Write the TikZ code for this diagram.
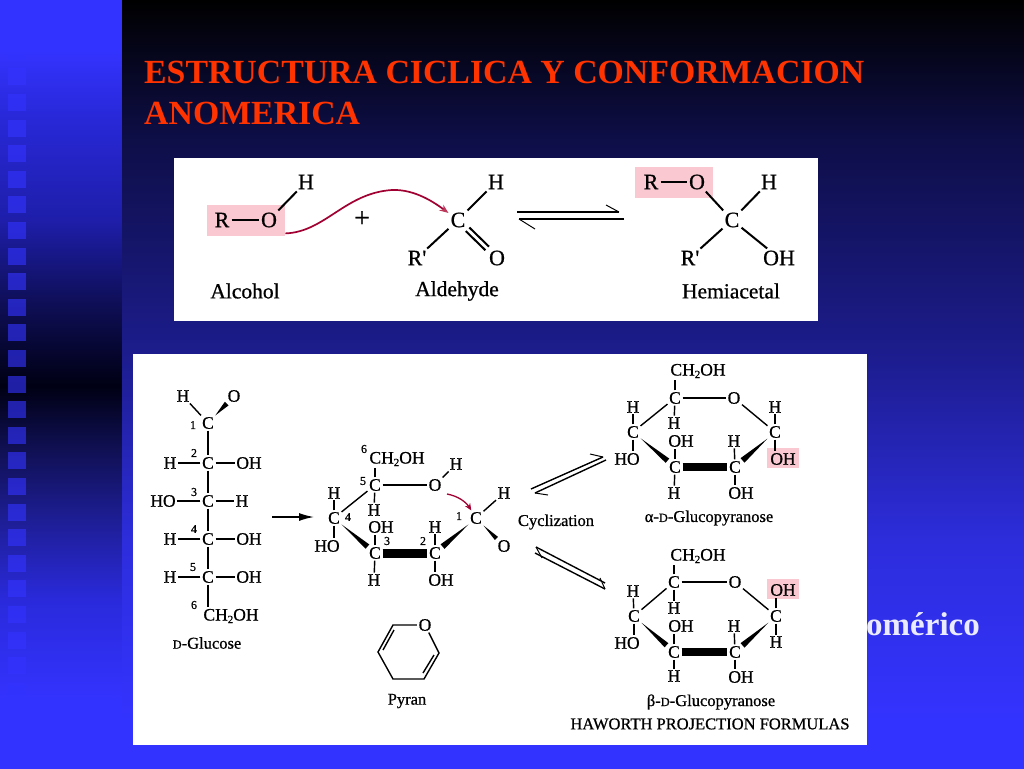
\documentclass[tikz,border=0pt]{standalone}
\usepackage{fontspec}
\setmainfont{Liberation Serif}
\newfontfamily\molfont[FakeBold=0.7]{Liberation Serif}
\usetikzlibrary{calc,arrows.meta}
\definecolor{bbright}{RGB}{51,51,255}
\definecolor{pinkbg}{RGB}{250,200,208}
\definecolor{arrowred}{RGB}{160,0,50}
\definecolor{titlered}{RGB}{255,51,0}
\pgfdeclareverticalshading{leftbg}{100bp}{
 color(0bp)=(bbright); color(29.4bp)=(bbright);
 color(35.9bp)=(rgb,255:red,42;green,42;blue,220);
 color(41.1bp)=(rgb,255:red,30;green,30;blue,150);
 color(46bp)=(rgb,255:red,15;green,15;blue,80);
 color(49.9bp)=(rgb,255:red,0;green,0;blue,20);
 color(55.5bp)=(rgb,255:red,15;green,15;blue,90);
 color(60.7bp)=(rgb,255:red,30;green,30;blue,170);
 color(67.2bp)=(rgb,255:red,40;green,40;blue,215);
 color(71.7bp)=(bbright); color(100bp)=(bbright)}
\pgfdeclareverticalshading{rightbg}{100bp}{
 color(0bp)=(bbright); color(28.1bp)=(bbright);
 color(39.8bp)=(rgb,255:red,45;green,45;blue,220);
 color(52.2bp)=(rgb,255:red,28;green,28;blue,140);
 color(65.9bp)=(rgb,255:red,14;green,14;blue,72);
 color(75bp)=(rgb,255:red,0;green,0;blue,0); color(100bp)=(rgb,255:red,0;green,0;blue,0)}
\tikzset{
 x=1pt,y=-1pt,
 atomU/.style={inner sep=2pt,font=\molfont\fontsize{22}{22}\selectfont},
 atomL/.style={inner sep=1.5pt,font=\molfont\fontsize{17.5}{17.5}\selectfont},
 num/.style={inner sep=0pt,font=\molfont\fontsize{12}{12}\selectfont},
 capU/.style={inner sep=0pt,font=\molfont\fontsize{21.5}{21.5}\selectfont},
 capL/.style={inner sep=0pt,font=\molfont\fontsize{16.5}{16.5}\selectfont},
 bondU/.style={line width=2pt},
 bondL/.style={line width=1.4pt},
 barb/.style={line width=1pt},
 pinkbox/.style={fill=pinkbg,inner sep=0pt,anchor=north west},
 panel/.style={fill=white},
 squarebox/.style={fill=bbright,fill opacity=.62},
 titletext/.style={anchor=base west,inner sep=0pt,text=titlered,font=\fontsize{33.8}{33.8}\selectfont\bfseries},
}
\newcommand\wbond[3]{\path (#1) -- (#2) coordinate[pos=0] (wS) coordinate[pos=1] (wE);
 \fill (wS) -- ($(wE)!#3!90:(wS)$) -- ($(wE)!#3!-90:(wS)$) -- cycle;}
\newcommand\chtwo{CH\raisebox{-2.5pt}{\fontsize{11}{11}\selectfont 2}OH}
\newcommand\smalld{{\fontsize{12.5}{12.5}\selectfont D}}
\begin{document}
\begin{tikzpicture}
\useasboundingbox (0,0) rectangle (1024,768);
% backgrounds
\shade[shading=leftbg] (0,0) rectangle (122,768);
\shade[shading=rightbg] (122,0) rectangle (1024,768);
\foreach \k in {-13,...,15} {
 \fill[squarebox] (8,{350+25.6*\k}) rectangle (26,{367+25.6*\k});
}
% title
\node[titletext] (t1) at (144,83) {ESTRUCTURA CICLICA Y CONFORMACION};
\node[titletext] (t2) at (144,124) {ANOMERICA};
\node[anchor=base west,inner sep=0pt,text={rgb,255:red,235;green,235;blue,255},font=\fontsize{33}{33}\selectfont\bfseries] (omer) at (866,635) {omérico};
% panels
\fill[panel] (174,158) rectangle (818,321);
\fill[panel] (133,354) rectangle (867,745);

% ---------- top panel
\node[pinkbox,minimum width=78pt,minimum height=31pt] (pk1) at (207,205) {};
\node[pinkbox,minimum width=78pt,minimum height=31pt] (pk2) at (635,167) {};
\node[atomU] (aR) at (222,220) {R};
\node[atomU] (aO) at (269,220) {O};
\node[atomU] (aH) at (306,182) {H};
\draw[bondU] (aR) -- (aO);
\draw[bondU] (aO) -- (aH);
\node[atomU,font=\molfont\fontsize{28}{28}\selectfont] (plus) at (362,219) {+};
\node[atomU] (bC) at (458,220) {C};
\node[atomU] (bH) at (496,182) {H};
\node[atomU] (bR) at (417,258) {R'};
\node[atomU] (bO) at (497,258) {O};
\draw[bondU] (bC) -- (bH);
\draw[bondU] (bC) -- (bR);
\draw[bondU,transform canvas={shift={(1.8pt,1.8pt)}}] (bC) -- (bO);
\draw[bondU,transform canvas={shift={(-1.8pt,-1.8pt)}}] (bC) -- (bO);
\draw[arrowred,line width=1.7pt,-{Stealth[length=9pt,width=7pt,color=arrowred!70!pink]}]
 ([yshift=3pt]pk1.south east) .. controls (325,232) and (345,193) .. (392,190)
 .. controls (415,189) and (435,203) .. (bC);
\coordinate (eqAs) at (517,212); \coordinate (eqAe) at (619,212); \coordinate (eqAb) at (606,205);
\coordinate (eqBs) at (624,219); \coordinate (eqBe) at (519,219); \coordinate (eqBb) at (535,229);
\draw[bondU] (eqAs) -- (eqAe);
\draw[barb] (eqAe) -- (eqAb);
\draw[bondU] (eqBs) -- (eqBe);
\draw[barb] (eqBe) -- (eqBb);
\node[atomU] (cR) at (651,182) {R};
\node[atomU] (cO) at (697,182) {O};
\node[atomU] (cC) at (732,220) {C};
\node[atomU] (cH) at (769,182) {H};
\node[atomU] (cRp) at (690,258) {R'};
\node[atomU] (cOH) at (779,258) {OH};
\draw[bondU] (cR) -- (cO);
\draw[bondU] (cO) -- (cC);
\draw[bondU] (cC) -- (cH);
\draw[bondU] (cC) -- (cRp);
\draw[bondU] (cC) -- (cOH);
\node[capU] (lAlc) at (245,291) {Alcohol};
\node[capU] (lAld) at (457,291) {Aldehyde};
\node[capU] (lHem) at (731,291) {Hemiacetal};

% ---------- D-glucose
\node[atomL] (gH) at (183,396) {H};
\node[atomL] (gO) at (234,396) {O};
\node[atomL] (g1) at (208,423) {C};
\node[atomL] (g2) at (208,463) {C};
\node[atomL] (g3) at (208,501) {C};
\node[atomL] (g4) at (208,539) {C};
\node[atomL] (g5) at (208,577) {C};
\node[atomL] (g6) at (231,616) {\chtwo};
\draw[bondL] (g1) -- (gH);
\wbond{g1}{gO}{2.6pt}
\draw[bondL] (g1) -- (g2);
\draw[bondL] (g2) -- (g3);
\draw[bondL] (g3) -- (g4);
\draw[bondL] (g4) -- (g5);
\draw[bondL] (g5) -- (g5 |- g6.north);
\node[atomL] (g2l) at (170,463) {H};
\node[atomL] (g3l) at (163,501) {HO};
\node[atomL] (g4l) at (170,539) {H};
\node[atomL] (g5l) at (170,577) {H};
\node[atomL] (g2r) at (249,463) {OH};
\node[atomL] (g3r) at (242,501) {H};
\node[atomL] (g4r) at (249,539) {OH};
\node[atomL] (g5r) at (249,577) {OH};
\foreach \n in {2,3,4,5} {
 \draw[bondL] (g\n) -- (g\n l);
 \draw[bondL] (g\n) -- (g\n r);
}
\node[num] (n1) at (193,425) {1};
\node[num] (n2) at (194,453) {2};
\node[num] (n3) at (194,492) {3};
\node[num] (n4) at (194,529) {4};
\node[num] (n5) at (193,567) {5};
\node[num] (n6) at (194,605) {6};
\node[capL] (lGlu) at (207,643) {\smalld-Glucose};
\coordinate (fwdS) at (272,517); \coordinate (fwdE) at (314,517);
\draw[bondL,-{Latex[length=15pt,width=8pt]}] (fwdS) -- (fwdE);

% ---------- open pyranose form
\node[atomL] (oC5) at (375,485) {C};
\node[atomL] (oO) at (435,485) {O};
\node[atomL] (oC1) at (476,518) {C};
\node[atomL] (oC2) at (435,553) {C};
\node[atomL] (oC3) at (375,553) {C};
\node[atomL] (oC4) at (334,518) {C};
\node[atomL] (oCH) at (397,459) {\chtwo};
\node[atomL] (oOH) at (456,464) {H};
\node[atomL] (o1H) at (504,493) {H};
\node[atomL] (o1O) at (504,546) {O};
\node[atomL] (o5H) at (374,510) {H};
\node[atomL] (o4H) at (334,493) {H};
\node[atomL] (o4O) at (327,546) {HO};
\node[atomL] (o3O) at (381,527) {OH};
\node[atomL] (o3H) at (374,580) {H};
\node[atomL] (o2H) at (435,527) {H};
\node[atomL] (o2O) at (441,580) {OH};
\draw[bondL] (oC5) -- (oO);
\draw[bondL] (oO) -- (oOH);
\draw[bondL] (oC5) -- (oC5 |- oCH.south);
\draw[bondL] (oC5) -- (o5H);
\draw[bondL] (oC4) -- (oC5);
\draw[bondL] (oC4) -- (o4H);
\draw[bondL] (oC4) -- (oC4 |- o4O.north);
\draw[bondL] (oC3) -- (oC3 |- o3O.south);
\draw[bondL] (oC3) -- (o3H);
\draw[bondL] (oC2) -- (o2H);
\draw[bondL] (oC2) -- (oC2 |- o2O.north);
\draw[bondL] (oC1) -- (o1H);
\wbond{oC4}{oC3}{2.8pt}
\wbond{oC1}{oC2}{3pt}
\wbond{oC1}{o1O}{2.2pt}
\draw[line width=9pt] (oC3) -- (oC2);
\coordinate (redS) at (447,494);
\draw[arrowred,line width=1.3pt,-{Stealth[length=7pt,width=6pt]}] (redS) .. controls (458,496) and (466,502) .. (oC1);
\node[num] (o6n) at (364,449) {6};
\node[num] (o5n) at (363,481) {5};
\node[num] (o4n) at (348,517) {4};
\node[num] (o3n) at (387,541) {3};
\node[num] (o2n) at (423,541) {2};
\node[num] (o1n) at (459,516) {1};
\node[capL] (lCyc) at (556,522) {Cyclization};
% equilibria
\coordinate (e1a) at (531,489); \coordinate (e1b) at (603,457); \coordinate (e1c) at (590,454);
\coordinate (e2a) at (606,460); \coordinate (e2b) at (535,493); \coordinate (e2c) at (548,495);
\draw[bondL] (e1a) -- (e1b);
\draw[barb] (e1b) -- (e1c);
\draw[bondL] (e2a) -- (e2b);
\draw[barb] (e2b) -- (e2c);
\coordinate (e3a) at (605,583); \coordinate (e3b) at (536,547); \coordinate (e3c) at (542,558);
\coordinate (e4a) at (535,553); \coordinate (e4b) at (605,589); \coordinate (e4c) at (600,578);
\draw[bondL] (e3a) -- (e3b);
\draw[barb] (e3b) -- (e3c);
\draw[bondL] (e4a) -- (e4b);
\draw[barb] (e4b) -- (e4c);

% ---------- alpha
\node[pinkbox,minimum width=32pt,minimum height=20pt] (pkA) at (767,448) {};
\node[atomL] (aC5) at (675,398) {C};
\node[atomL] (aOr) at (734,398) {O};
\node[atomL] (aC1) at (775,432) {C};
\node[atomL] (aC2) at (735,467) {C};
\node[atomL] (aC3) at (675,467) {C};
\node[atomL] (aC4) at (633,432) {C};
\node[atomL] (aCH) at (698,371) {\chtwo};
\node[atomL] (a1H) at (775,407) {H};
\node[atomL] (a1O) at (783,459) {OH};
\node[atomL] (a5H) at (674,423) {H};
\node[atomL] (a4H) at (633,407) {H};
\node[atomL] (a4O) at (627,459) {HO};
\node[atomL] (a3O) at (681,441) {OH};
\node[atomL] (a3H) at (674,493) {H};
\node[atomL] (a2H) at (734,441) {H};
\node[atomL] (a2O) at (741,493) {OH};
\draw[bondL] (aC5) -- (aOr);
\draw[bondL] (aOr) -- (aC1);
\draw[bondL] (aC5) -- (aC5 |- aCH.south);
\draw[bondL] (aC5) -- (a5H);
\draw[bondL] (aC4) -- (aC5);
\draw[bondL] (aC4) -- (a4H);
\draw[bondL] (aC4) -- (aC4 |- a4O.north);
\draw[bondL] (aC3) -- (aC3 |- a3O.south);
\draw[bondL] (aC3) -- (a3H);
\draw[bondL] (aC2) -- (a2H);
\draw[bondL] (aC2) -- (aC2 |- a2O.north);
\draw[bondL] (aC1) -- (a1H);
\draw[bondL] (aC1) -- (aC1 |- a1O.north);
\wbond{aC4}{aC3}{2.8pt}
\wbond{aC1}{aC2}{3pt}
\draw[line width=8pt] (aC3) -- (aC2);
\node[capL] (lAlpha) at (709,518) {α-\smalld-Glucopyranose};

% ---------- beta
\node[pinkbox,minimum width=32pt,minimum height=20pt] (pkB) at (767,579) {};
\node[atomL] (bC5) at (674,582) {C};
\node[atomL] (bOr) at (735,582) {O};
\node[atomL] (bC1) at (776,616) {C};
\node[atomL] (bC2) at (735,652) {C};
\node[atomL] (bC3) at (674,652) {C};
\node[atomL] (bC4) at (634,616) {C};
\node[atomL] (bCH) at (698,556) {\chtwo};
\node[atomL] (b1O) at (783,590) {OH};
\node[atomL] (b1H) at (776,642) {H};
\node[atomL] (b5H) at (674,608) {H};
\node[atomL] (b4H) at (633,591) {H};
\node[atomL] (b4O) at (627,643) {HO};
\node[atomL] (b3O) at (681,626) {OH};
\node[atomL] (b3H) at (674,676) {H};
\node[atomL] (b2H) at (734,626) {H};
\node[atomL] (b2O) at (741,677) {OH};
\draw[bondL] (bC5) -- (bOr);
\draw[bondL] (bOr) -- (bC1);
\draw[bondL] (bC5) -- (bC5 |- bCH.south);
\draw[bondL] (bC5) -- (b5H);
\draw[bondL] (bC4) -- (bC5);
\draw[bondL] (bC4) -- (b4H);
\draw[bondL] (bC4) -- (bC4 |- b4O.north);
\draw[bondL] (bC3) -- (bC3 |- b3O.south);
\draw[bondL] (bC3) -- (b3H);
\draw[bondL] (bC2) -- (b2H);
\draw[bondL] (bC2) -- (bC2 |- b2O.north);
\draw[bondL] (bC1) -- (bC1 |- b1O.south);
\draw[bondL] (bC1) -- (b1H);
\wbond{bC4}{bC3}{2.8pt}
\wbond{bC1}{bC2}{3pt}
\draw[line width=8pt] (bC3) -- (bC2);
\node[capL] (lBeta) at (711,702) {β-\smalld-Glucopyranose};
\node[capL] (lHaw) at (710,724) {HAWORTH PROJECTION FORMULAS};

% ---------- pyran
\node[atomL] (pO) at (425,625) {O};
\coordinate (p1) at (393,625); \coordinate (p2) at (378,652); \coordinate (p3) at (393,679);
\coordinate (p4) at (424,679); \coordinate (p5) at (439,653);
\coordinate (p1i) at (394,630); \coordinate (p2i) at (383,650);
\coordinate (p4i) at (423,673); \coordinate (p5i) at (434,655);
\draw[bondL] (pO) -- (p1) -- (p2) -- (p3) -- (p4) -- (p5) -- (pO);
\draw[bondL] (p1i) -- (p2i);
\draw[bondL] (p4i) -- (p5i);
\node[capL] (lPyr) at (407,701) {Pyran};
\end{tikzpicture}
\end{document}
